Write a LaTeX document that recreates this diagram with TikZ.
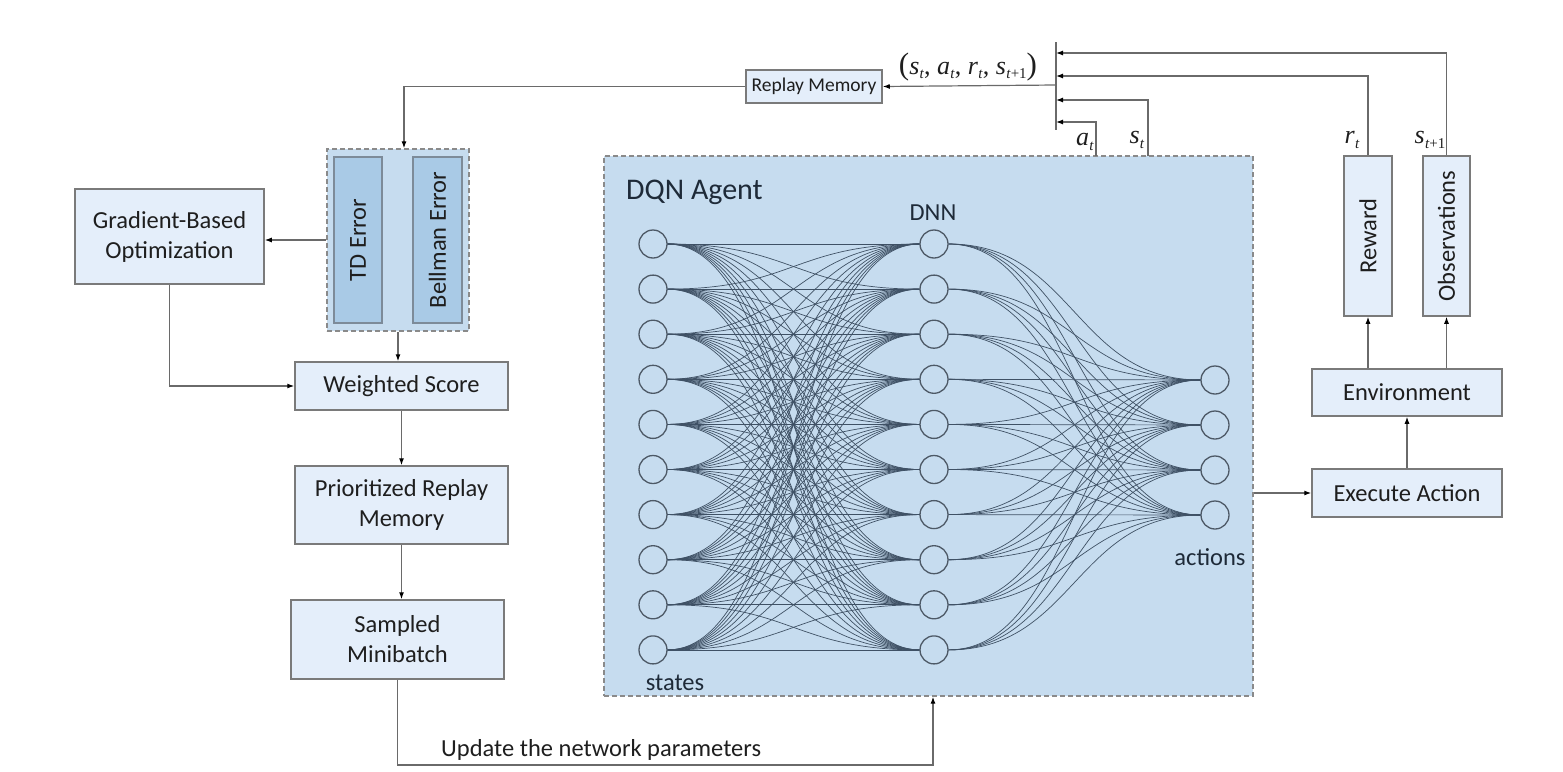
\documentclass[tikz,border=0pt]{standalone}
\usepackage{fontspec}
\setmainfont{Carlito}
\newfontfamily\tms{Liberation Serif}
\usetikzlibrary{arrows.meta}
\definecolor{boxfill}{HTML}{E4EEFA}
\definecolor{boxline}{HTML}{7A7A7A}
\definecolor{agentfill}{HTML}{C6DCEF}
\definecolor{innerfill}{HTML}{A9CAE6}
\definecolor{innerline}{HTML}{7D8B99}
\definecolor{dashline}{HTML}{8A8A8A}
\definecolor{wire}{HTML}{6A6A6A}
\definecolor{edgecol}{HTML}{3F5165}
\definecolor{neuronline}{HTML}{4D5966}
\definecolor{txt}{HTML}{1E1E1E}
\definecolor{agenttxt}{HTML}{1E2A38}
\newcommand{\mv}[2]{\textit{#1}\kern0.3pt\raisebox{-4.5pt}{\fontsize{15}{15}\selectfont\textit{#2}}}
\newcommand{\mvp}[1]{\textit{#1}\kern0.3pt\raisebox{-4.5pt}{\fontsize{15}{15}\selectfont\textit{t}+1}}
\begin{document}
\begin{tikzpicture}[x=1pt,y=-1pt,
  every node/.style={inner sep=0pt, text=txt},
  box/.style={draw=boxline, fill=boxfill, line width=1.5pt, align=center,
    font=\fontsize{24.5}{30}\selectfont},
  vbox/.style={draw=boxline, fill=boxfill, line width=1.5pt,
    font=\fontsize{24.5}{30}\selectfont},
  inbox/.style={draw=innerline, fill=innerfill, line width=1.3pt,
    font=\fontsize{24.5}{30}\selectfont},
  dashbox/.style={draw=dashline, dash pattern=on 5pt off 3pt, line width=1.3pt},
  arr/.style={draw=wire, line width=1.2pt, -{Latex[length=7pt,width=5pt,color=black]}},
  plain/.style={draw=wire, line width=1.2pt},
  neuron/.style={circle, draw=neuronline, line width=1.3pt, minimum size=28pt},
  edge/.style={draw=edgecol, line width=0.7pt},
  lbl/.style={font=\fontsize{24.5}{30}\selectfont},
  mlbl/.style={font=\tms\fontsize{26}{30}\selectfont}
]
\useasboundingbox (0,0) rectangle (1563,771);

% DQN agent container
\node[dashbox, fill=agentfill, minimum width=649pt, minimum height=540pt] (dqn) at (928.5,426) {};
\node[anchor=west, font=\fontsize{30}{34}\selectfont, text=agenttxt] (dqnlbl) at (626,192) {DQN Agent};
\node[lbl, text=agenttxt] (dnnlbl) at (933,213) {DNN};
\node[lbl, text=agenttxt] (stlbl) at (675,683) {states};
\node[lbl, text=agenttxt] (aclbl) at (1210,557) {actions};

% neurons
\foreach \i in {0,...,9} {
  \node[neuron] (in\i) at (653,{244+45.1*\i}) {};
  \node[neuron] (hid\i) at (934,{244+45.1*\i}) {};
}
\foreach \k in {0,...,3} {
  \node[neuron] (out\k) at (1215,{380+45*\k}) {};
}
\foreach \i in {0,...,9} {
  \foreach \j in {0,...,9} {
    \draw[edge] (in\i.east) .. controls +(125,0) and +(-125,0) .. (hid\j.west);
  }
  \foreach \k in {0,...,3} {
    \draw[edge] (hid\i.east) .. controls +(125,0) and +(-125,0) .. (out\k.west);
  }
}

% left boxes
\node[box, minimum width=136pt, minimum height=33pt, font=\fontsize{19.5}{22}\selectfont] (rm) at (814,86.5) {Replay Memory};
\node[dashbox, fill=agentfill, minimum width=142pt, minimum height=182pt] (td) at (398,240) {};
\node[inbox, minimum width=48pt, minimum height=166pt] (tde) at (358,240) {};
\node[rotate=90, font=\fontsize{24.5}{30}\selectfont] (tdetxt) at (358,240) {TD Error};
\node[inbox, minimum width=49pt, minimum height=166pt] (be) at (437.5,240) {};
\node[rotate=90, font=\fontsize{24.5}{30}\selectfont] (betxt) at (437.5,240) {Bellman Error};
\node[box, minimum width=189pt, minimum height=95pt] (grad) at (169.5,236.5) {Gradient-Based\\Optimization};
\node[box, minimum width=213pt, minimum height=48pt] (ws) at (401.5,386) {Weighted Score};
\node[box, minimum width=213pt, minimum height=78pt] (prm) at (401.5,505) {Prioritized Replay\\Memory};
\node[box, minimum width=213pt, minimum height=79pt] (smb) at (397.5,639.5) {Sampled\\Minibatch};

% right boxes
\node[vbox, minimum width=48pt, minimum height=160pt] (reward) at (1368,236) {};
\node[rotate=90, font=\fontsize{24.5}{30}\selectfont] (rwtxt) at (1368,236) {Reward};
\node[vbox, minimum width=47pt, minimum height=160pt] (obs) at (1446.5,236) {};
\node[rotate=90, font=\fontsize{24.5}{30}\selectfont] (obtxt) at (1446.5,236) {Observations};
\node[box, minimum width=190pt, minimum height=47pt] (env) at (1407,392.5) {Environment};
\node[box, minimum width=190pt, minimum height=48pt] (exe) at (1407,493) {Execute Action};

% junction
\coordinate (jt) at (1056,42);
\coordinate (jb) at (1056,130);
\coordinate (j0) at (1056,85);
\coordinate (j1) at (1056,53);
\coordinate (j2) at (1056,76);
\coordinate (j3) at (1056,100);
\coordinate (j4) at (1056,122);
\coordinate (sto) at (1148,156);
\coordinate (ato) at (1096,156);
\draw[plain] (jt) -- (jb);
\draw[arr] (j0) -- (rm.east);
\draw[arr] (obs.north) |- (j1);
\draw[arr] (reward.north) |- (j2);
\draw[arr] (sto) |- (j3);
\draw[arr] (ato) |- (j4);

\node[mlbl] (tuple) at (968,67) {{\fontsize{31}{31}\selectfont(}\mv{s}{t}, \mv{a}{t}, \mv{r}{t}, \mvp{s}{\fontsize{31}{31}\selectfont)}};
\node[mlbl] (atl) at (1085,142) {\mv{a}{t}};
\node[mlbl] (stl) at (1137,140) {\mv{s}{t}};
\node[mlbl] (rtl) at (1352,140) {\mv{r}{t}};
\node[mlbl] (st1l) at (1430,140) {\mvp{s}};

% left flow
\draw[arr] (rm.west) -| ([xshift=6pt]td.north);
\draw[arr] (td.west) -- (td.west -| grad.east);
\draw[arr] (td.south) -- (td.south |- ws.north);
\draw[arr] (grad.south) |- (ws.west);
\draw[arr] (ws.south) -- (prm.north);
\draw[arr] (prm.south) -- (prm.south |- smb.north);
\coordinate (upd) at (933,765);
\draw[arr] (smb.south) |- (upd) -- (upd |- dqn.south);
\node[lbl, anchor=west] (updlbl) at (441,750) {Update the network parameters};

% right flow
\draw[arr] (dqn.east |- exe.west) -- (exe.west);
\draw[arr] (exe.north) -- (env.south);
\draw[arr] (env.north -| reward.south) -- (reward.south);
\draw[arr] (env.north -| obs.south) -- (obs.south);
\end{tikzpicture}
\end{document}
